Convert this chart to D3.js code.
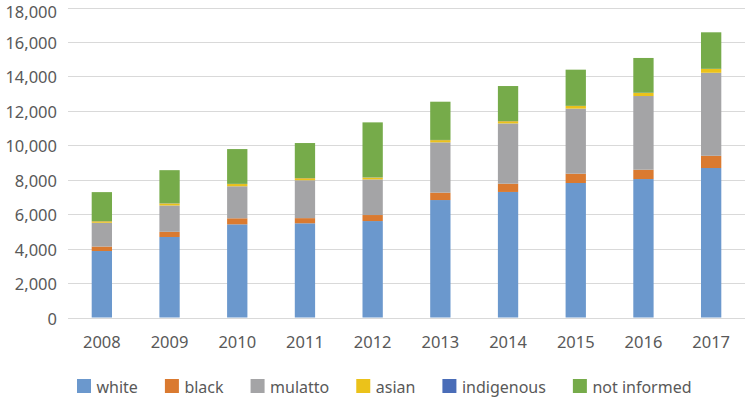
<!DOCTYPE html>
<html>
<head>
<meta charset="utf-8">
<script src="https://cdn.jsdelivr.net/npm/d3@7"></script>
<style>
  html, body { margin: 0; padding: 0; background: #fff; }
  svg { display: block; font-family: "Noto Sans", "Open Sans", sans-serif; }
</style>
</head>
<body>
<svg id="chart" width="750" height="401"></svg>
<script>
const years = ["2008","2009","2010","2011","2012","2013","2014","2015","2016","2017"];
const seriesNames = ["white","black","mulatto","asian","indigenous","not informed"];
const white      = [3860, 4675, 5410, 5470, 5600, 6820, 7290, 7810, 8040, 8680];
const black      = [ 260,  300,  350,  300,  350,  430,  480,  540,  540,  710];
const mulatto    = [1380, 1530, 1860, 2200, 2070, 2920, 3500, 3780, 4280, 4820];
const asian      = [  90,  120,  130,  120,  110,  130,  130,  150,  180,  220];
const indigenous = [  10,   10,   10,   10,   10,   10,   10,   10,   10,   10];
const notInformed= [1680, 1920, 2020, 2030, 3190, 2220, 2030, 2100, 2020, 2120];
const yTicks = [0,2000,4000,6000,8000,10000,12000,14000,16000,18000];
const colors = ["#6B98CD","#DA7A30","#A4A4A6","#EBC21A","#4A6DB8","#76AB4A"];

const seriesValues = [white, black, mulatto, asian, indigenous, notInformed];
const rows = years.map((y, i) => {
  const r = { year: y };
  seriesNames.forEach((s, k) => r[s] = seriesValues[k][i]);
  return r;
});

const svg = d3.select("#chart");
const x = d3.scaleBand().domain(years).range([68, 745]).paddingInner(0.7).paddingOuter(0.35);
const y = d3.scaleLinear().domain([0, 18000]).range([317.5, 7.5]);
const fmt = d3.format(",");

// gridlines
svg.append("g").selectAll("line").data(yTicks).join("line")
  .attr("x1", 68).attr("x2", 745)
  .attr("y1", d => Math.round(y(d)) + 0.5).attr("y2", d => Math.round(y(d)) + 0.5)
  .attr("stroke", "#D9D9D9").attr("stroke-width", 1);

// y axis labels
svg.append("g").selectAll("text").data(yTicks).join("text")
  .attr("x", 57)
  .attr("y", d => Math.max(18, y(d) + 7))
  .attr("text-anchor", "end")
  .attr("font-size", 16.5).attr("fill", "#595959")
  .text(d => fmt(d));

// x axis labels
const xAxis = d3.axisBottom(x).tickSize(0).tickPadding(0);
const xa = svg.append("g").attr("transform", "translate(0,336)").call(xAxis);
xa.select(".domain").remove();
xa.selectAll("text").attr("font-size", 16.5).attr("fill", "#595959").attr("font-family", "\"Noto Sans\", sans-serif");

// stacked bars
const stack = d3.stack().keys(seriesNames)(rows);
svg.append("g").selectAll("g").data(stack).join("g")
  .attr("fill", (d, i) => colors[i])
  .selectAll("rect").data(d => d).join("rect")
  .attr("x", d => x(d.data.year))
  .attr("width", x.bandwidth())
  .attr("y", d => y(d[1]))
  .attr("height", d => Math.max(0, y(d[0]) - y(d[1])));

// legend
const legend = svg.append("g");
let cx = 77;
seriesNames.forEach((s, i) => {
  const g = legend.append("g").attr("transform", `translate(${cx},0)`);
  g.append("rect").attr("x", 0).attr("y", 379).attr("width", 14).attr("height", 14).attr("fill", colors[i]);
  const t = g.append("text").attr("x", 19.5).attr("y", 393)
    .attr("font-size", 16).attr("fill", "#595959").text(s);
  cx += 19.5 + t.node().getComputedTextLength() + 27;
});
</script>
</body>
</html>
